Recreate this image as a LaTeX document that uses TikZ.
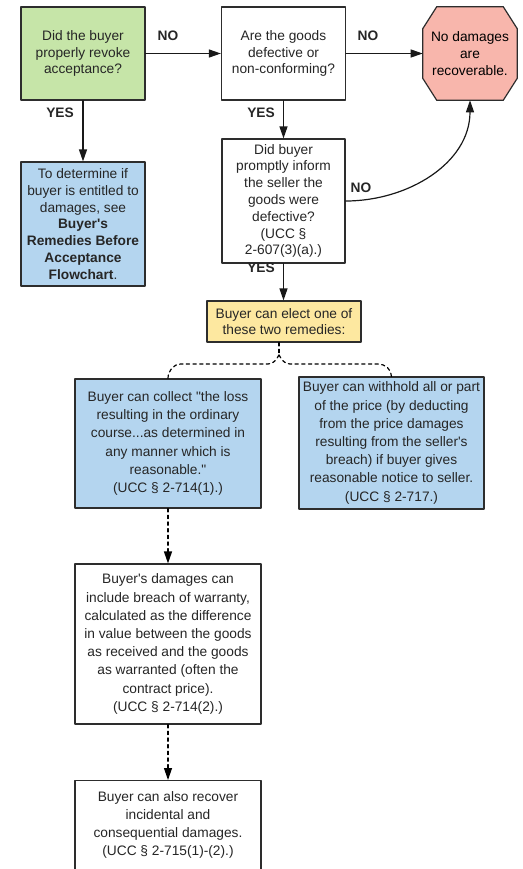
\documentclass[tikz,border=0pt]{standalone}
\usepackage{fontspec}
\setmainfont{Liberation Sans}[Ligatures=TeXOff]
\usepackage{xcolor}
\usetikzlibrary{arrows.meta,backgrounds,calc}
\definecolor{revokegreen}{RGB}{198,229,168}
\definecolor{remblue}{RGB}{180,213,239}
\definecolor{electyellow}{RGB}{253,232,160}
\definecolor{stoppink}{RGB}{248,182,172}
\definecolor{edgegray}{RGB}{45,45,45}
\newcommand{\topfont}{\fontsize{10.3}{12.6}\selectfont}
\newcommand{\lowfont}{\fontsize{10.3}{13.65}\selectfont}

\begin{document}
\begin{tikzpicture}[x=0.75pt, y=-0.75pt, line cap=round, line join=round,
		box/.style={draw=edgegray, line width=0.9pt, fill=white, align=center, inner sep=2pt, text=black!85},
		question/.style={box, font=\topfont, minimum width=93pt, minimum height=69.75pt},
		remedy/.style={box, fill=remblue, font=\lowfont, minimum width=139.5pt},
		lbl/.style={font=\bfseries\topfont, text=black!85},
		arr/.style={draw=black!90, line width=0.9pt, -{Triangle[length=9pt,width=6pt]}},
		dashline/.style={draw=black, line width=0.9pt, dash pattern=on 2.5pt off 2.5pt},
		dasharr/.style={dashline, -{Triangle[length=9pt,width=6pt]}}]
	\useasboundingbox (0,0) rectangle (523,869);

	% top row
	\node[question, fill=revokegreen] (revoke) at (83,53.5) {Did the buyer\\properly revoke\\acceptance?};
	\node[question] (defect) at (283.5,53.5) {Are the goods\\defective or\\non-conforming?};
	\node[align=center, font=\topfont, inner sep=0pt, minimum width=70.5pt, minimum height=69.75pt] (nodmg) at (470,53.5) {No damages\\are\\recoverable.};
	\begin{scope}[on background layer]
		\filldraw[draw=edgegray, fill=stoppink, line width=0.9pt]
			($(nodmg.north west)+(14,0)$) -- ($(nodmg.north east)+(-14,0)$) -- ($(nodmg.north east)+(0,22)$)
			-- ($(nodmg.south east)+(0,-22)$) -- ($(nodmg.south east)+(-14,0)$) -- ($(nodmg.south west)+(14,0)$)
			-- ($(nodmg.south west)+(0,-22)$) -- ($(nodmg.north west)+(0,22)$) -- cycle;
	\end{scope}

	\node[question, fill=remblue, minimum height=93pt] (before) at (83,224) {To determine if\\buyer is entitled to\\damages, see\\\textbf{Buyer's}\\\textbf{Remedies Before}\\\textbf{Acceptance}\\\textbf{Flowchart}.};
	\node[question, minimum width=92.25pt, minimum height=93pt] (inform) at (283.5,201) {Did buyer\\promptly inform\\the seller the\\goods were\\defective?\\(UCC §\\2-607(3)(a).)};
	\node[box, fill=electyellow, font=\topfont, minimum width=115.5pt, minimum height=30.75pt] (elect) at (284,321.5) {Buyer can elect one of\\these two remedies:};

	% the two remedies
	\node[remedy, minimum height=96.75pt] (collect) at (168,443.5) {Buyer can collect "the loss\\resulting in the ordinary\\course...as determined in\\any manner which is\\reasonable."\\(UCC § 2-714(1).)};
	\node[remedy, minimum width=138.75pt, minimum height=99pt] (withhold) at (391.5,443) {Buyer can withhold all or part\\of the price (by deducting\\from the price damages\\resulting from the seller's\\breach) if buyer gives\\reasonable notice to seller.\\(UCC § 2-717.)};
	\node[box, font=\lowfont, minimum width=139.5pt, minimum height=120pt] (warranty) at (168,644) {Buyer's damages can\\include breach of warranty,\\calculated as the difference\\in value between the goods\\as received and the goods\\as warranted (often the\\contract price).\\(UCC § 2-714(2).)};
	\node[box, font=\lowfont, minimum width=139.5pt, inner ysep=8pt, anchor=north] (incid) at (168,780) {Buyer can also recover\\incidental and\\consequential damages.\\(UCC § 2-715(1)-(2).)\rule[-40pt]{0pt}{0pt}};

	% answers
	\node[lbl] (no1) at (168,36) {NO};
	\node[lbl] (no2) at (368,36) {NO};
	\node[lbl] (yes1) at (60,113) {YES};
	\node[lbl] (yes2) at (261,113) {YES};
	\node[lbl] (no3) at (361,188) {NO};
	\node[lbl] (yes3) at (261,268) {YES};

	\draw[arr] (revoke) -- (defect);
	\draw[arr] (defect) -- (nodmg);
	\draw[arr] (revoke) -- (before);
	\draw[arr] (defect) -- (inform);
	\draw[arr] (inform.south) -- (inform.south |- elect.north);
	\draw[arr] (inform.east) to[out=0, in=-90] (nodmg.south);

	\coordinate (fork) at (279,355);
	\draw[dashline] ([xshift=-3.75pt]elect.south) -- (fork);
	\draw[dashline] (fork) to[out=-120, in=0] (268,364) -- (181,364) to[out=180, in=90] (collect.north);
	\draw[dashline] (fork) to[out=-60, in=180] (290,364) -- (378,364) to[out=0, in=90] (withhold.north);
	\draw[dasharr] (collect) -- (warranty);
	\draw[dasharr] (warranty) -- (incid);
\end{tikzpicture}
\end{document}
